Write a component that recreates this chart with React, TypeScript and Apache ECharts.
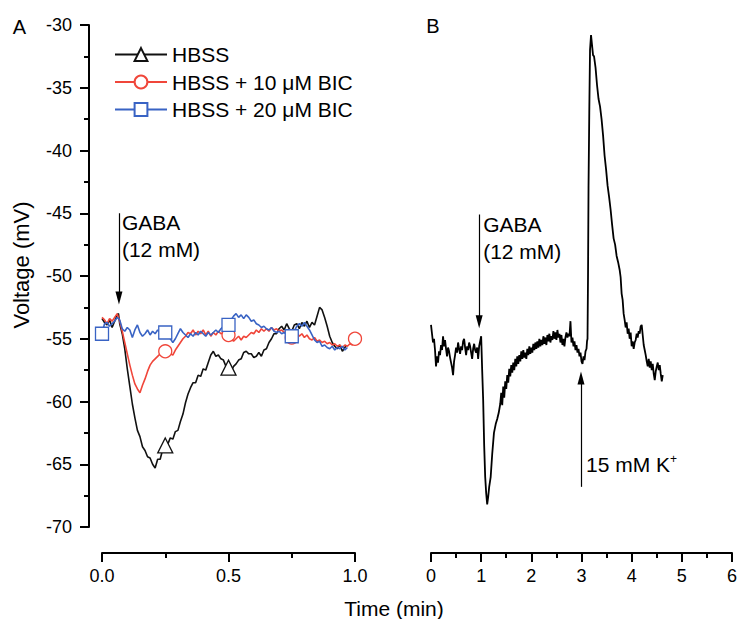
import React, { useEffect, useRef } from 'react';
import * as echarts from 'echarts';

// ---------- Panel A data (time in min, voltage in mV) ----------
const hbssTime = [0.00,0.01,0.02,0.03,0.04,0.05,0.06,0.065,0.07,0.08,0.09,0.10,0.11,0.12,0.13,0.14,0.15,0.16,0.17,0.18,0.19,0.20,0.21,0.22,0.23,0.24,0.25,0.26,0.27,0.28,0.29,0.30,0.31,0.32,0.33,0.34,0.35,0.36,0.37,0.38,0.39,0.40,0.41,0.42,0.43,0.44,0.45,0.46,0.47,0.48,0.49,0.50,0.51,0.52,0.53,0.54,0.55,0.56,0.57,0.58,0.59,0.60,0.61,0.62,0.63,0.64,0.65,0.66,0.67,0.68,0.69,0.70,0.71,0.72,0.73,0.74,0.75,0.76,0.77,0.78,0.79,0.80,0.81,0.82,0.83,0.84,0.85,0.86,0.87,0.88,0.89,0.90,0.91,0.92,0.93,0.94,0.95,0.96,0.965];
const hbssVolt = [-53.4,-53.7,-53.9,-53.5,-54.1,-53.6,-53.1,-53.0,-53.8,-54.6,-55.8,-57.4,-58.8,-60.2,-61.3,-62.3,-62.8,-63.6,-63.9,-64.4,-64.5,-65.0,-65.3,-64.6,-64.6,-63.8,-63.5,-63.4,-62.9,-63.0,-62.4,-62.3,-61.6,-61.0,-60.1,-59.4,-58.9,-58.5,-58.5,-57.9,-58.0,-57.4,-57.5,-56.9,-56.3,-56.0,-56.4,-56.3,-56.6,-56.7,-57.2,-57.3,-57.6,-57.2,-57.0,-56.7,-56.6,-56.1,-56.0,-56.2,-56.2,-56.5,-56.4,-56.1,-56.4,-55.9,-55.8,-55.3,-55.0,-54.6,-54.6,-54.2,-54.0,-54.3,-53.8,-54.2,-54.4,-53.9,-53.8,-54.2,-53.7,-54.0,-53.6,-54.1,-53.7,-53.9,-53.2,-52.5,-52.7,-53.3,-54.0,-54.8,-55.3,-55.6,-55.8,-55.5,-56.0,-55.7,-55.5];
const hbssMarks = [0.25, 0.5];

const bic10Time = [0.00,0.01,0.02,0.03,0.04,0.05,0.06,0.07,0.08,0.09,0.10,0.11,0.12,0.13,0.14,0.15,0.16,0.17,0.18,0.19,0.20,0.21,0.22,0.23,0.24,0.25,0.26,0.27,0.28,0.29,0.30,0.31,0.32,0.33,0.34,0.35,0.36,0.37,0.38,0.39,0.40,0.41,0.42,0.43,0.44,0.45,0.46,0.47,0.48,0.49,0.50,0.51,0.52,0.53,0.54,0.55,0.56,0.57,0.58,0.59,0.60,0.61,0.62,0.63,0.64,0.65,0.66,0.67,0.68,0.69,0.70,0.71,0.72,0.73,0.74,0.75,0.76,0.77,0.78,0.79,0.80,0.81,0.82,0.83,0.84,0.85,0.86,0.87,0.88,0.89,0.90,0.91,0.92,0.93,0.94,0.95,0.96,0.97,0.98,0.99,1.00];
const bic10Volt = [-53.3,-53.5,-53.8,-53.4,-53.6,-53.3,-53.0,-53.6,-54.4,-55.3,-56.2,-57.1,-57.9,-58.6,-59.0,-59.3,-58.7,-58.2,-57.6,-57.1,-56.8,-56.6,-56.4,-56.2,-56.1,-56.0,-55.9,-56.2,-56.3,-55.9,-55.6,-55.3,-55.0,-54.8,-54.5,-54.6,-54.3,-54.7,-54.4,-54.6,-54.3,-54.7,-54.4,-54.8,-54.5,-54.7,-54.4,-54.6,-54.5,-54.7,-54.7,-55.0,-55.2,-55.0,-54.8,-55.1,-54.8,-54.9,-54.7,-54.5,-54.6,-54.3,-54.5,-54.2,-54.4,-54.2,-54.4,-54.1,-54.3,-54.2,-54.4,-54.3,-54.5,-54.4,-54.6,-54.9,-54.7,-54.5,-54.8,-54.6,-54.9,-54.7,-55.0,-55.1,-54.9,-55.2,-55.1,-55.3,-55.2,-55.4,-55.3,-55.5,-55.4,-55.6,-55.5,-55.7,-55.5,-55.6,-55.4,-55.5,-55.0];
const bic10Marks = [0.25, 0.5, 0.75, 1.0];

const bic20Time = [0.00,0.01,0.02,0.03,0.04,0.05,0.06,0.07,0.08,0.09,0.10,0.11,0.12,0.13,0.14,0.15,0.16,0.17,0.18,0.19,0.20,0.21,0.22,0.23,0.24,0.25,0.26,0.27,0.28,0.29,0.30,0.31,0.32,0.33,0.34,0.35,0.36,0.37,0.38,0.39,0.40,0.41,0.42,0.43,0.44,0.45,0.46,0.47,0.48,0.49,0.50,0.51,0.52,0.53,0.54,0.55,0.56,0.57,0.58,0.59,0.60,0.61,0.62,0.63,0.64,0.65,0.66,0.67,0.68,0.69,0.70,0.71,0.72,0.73,0.74,0.75,0.76,0.77,0.78,0.79,0.80,0.81,0.82,0.83,0.84,0.85,0.86,0.87,0.88,0.89,0.90,0.91,0.92,0.93,0.94,0.95,0.96,0.97];
const bic20Volt = [-54.6,-53.8,-53.7,-54.0,-53.8,-53.6,-53.3,-53.5,-54.2,-54.4,-54.1,-54.3,-54.9,-54.3,-53.9,-54.5,-54.8,-54.6,-54.3,-54.7,-54.4,-54.6,-54.3,-54.5,-54.4,-54.5,-54.8,-55.0,-55.3,-55.0,-54.6,-54.2,-54.5,-54.7,-54.9,-54.6,-54.8,-54.5,-54.7,-54.4,-54.6,-54.8,-54.5,-54.7,-54.5,-54.3,-54.5,-54.2,-54.0,-53.9,-53.9,-53.5,-53.2,-53.0,-53.3,-53.1,-53.4,-53.1,-53.3,-53.6,-53.5,-53.8,-53.9,-54.1,-54.0,-54.2,-54.3,-54.1,-54.4,-54.5,-54.4,-54.6,-54.5,-54.7,-54.6,-54.8,-54.4,-54.0,-53.8,-54.0,-53.7,-54.0,-54.3,-54.7,-55.1,-55.3,-55.2,-55.6,-55.5,-55.7,-55.8,-55.6,-55.9,-55.7,-55.8,-55.6,-55.9,-55.7];
const bic20Marks = [0.0, 0.25, 0.5, 0.75];

// ---------- Panel B data ----------
const traceBTime = [0.00,0.02,0.04,0.06,0.08,0.10,0.12,0.14,0.16,0.18,0.20,0.22,0.24,0.26,0.28,0.30,0.32,0.34,0.36,0.38,0.40,0.42,0.44,0.46,0.48,0.50,0.52,0.54,0.56,0.58,0.60,0.62,0.64,0.66,0.68,0.70,0.72,0.74,0.76,0.78,0.80,0.82,0.84,0.86,0.88,0.90,0.92,0.94,0.96,0.98,1.00,1.02,1.04,1.06,1.08,1.10,1.12,1.14,1.16,1.19,1.22,1.255,1.29,1.32,1.35,1.38,1.40,1.42,1.44,1.46,1.48,1.50,1.52,1.54,1.56,1.58,1.60,1.62,1.64,1.66,1.68,1.70,1.72,1.74,1.76,1.78,1.80,1.82,1.84,1.86,1.88,1.90,1.92,1.94,1.96,1.98,2.00,2.02,2.04,2.06,2.08,2.10,2.12,2.14,2.16,2.18,2.20,2.22,2.24,2.26,2.28,2.30,2.32,2.34,2.36,2.38,2.40,2.42,2.44,2.46,2.48,2.50,2.52,2.54,2.56,2.58,2.60,2.62,2.64,2.66,2.68,2.70,2.72,2.74,2.76,2.78,2.80,2.82,2.84,2.86,2.88,2.90,2.92,2.94,2.96,2.98,3.00,3.02,3.04,3.06,3.08,3.10,3.11,3.12,3.13,3.14,3.155,3.17,3.19,3.21,3.23,3.25,3.28,3.31,3.34,3.37,3.40,3.43,3.46,3.49,3.52,3.55,3.58,3.61,3.64,3.67,3.70,3.73,3.76,3.78,3.80,3.82,3.84,3.86,3.88,3.90,3.92,3.94,3.96,3.98,4.00,4.02,4.04,4.06,4.08,4.10,4.12,4.14,4.16,4.18,4.20,4.22,4.24,4.26,4.28,4.30,4.32,4.34,4.36,4.38,4.40,4.42,4.44,4.46,4.48,4.50,4.52,4.54,4.56,4.58,4.60,4.62];
const traceBVolt = [-53.9,-54.6,-55.3,-55.0,-55.9,-57.2,-56.4,-56.9,-56.0,-56.3,-55.5,-55.9,-54.8,-55.6,-55.1,-55.8,-56.4,-55.7,-56.0,-56.5,-56.9,-57.3,-57.9,-56.8,-56.3,-55.7,-56.1,-55.3,-55.8,-56.2,-55.6,-55.9,-55.2,-55.0,-55.7,-56.3,-55.6,-55.9,-55.3,-55.6,-56.1,-56.6,-55.8,-55.4,-55.9,-56.1,-55.7,-56.6,-55.6,-55.2,-54.8,-57.5,-59.9,-63.5,-66.0,-67.3,-68.2,-67.6,-66.8,-66.0,-64.2,-62.5,-61.8,-61.4,-60.9,-60.2,-59.3,-60.3,-58.8,-59.7,-58.4,-59.0,-57.9,-58.5,-57.4,-58.0,-57.1,-57.7,-56.9,-57.5,-56.6,-57.2,-56.4,-57.0,-56.3,-56.8,-56.0,-56.6,-55.9,-56.5,-56.1,-56.6,-55.8,-56.3,-55.6,-56.2,-55.7,-56.1,-55.4,-55.9,-55.3,-55.8,-55.2,-55.7,-55.0,-55.6,-55.1,-55.5,-54.8,-55.4,-54.9,-55.5,-54.7,-55.2,-54.6,-55.3,-54.8,-55.1,-54.4,-55.0,-54.5,-55.1,-54.3,-54.9,-54.6,-55.3,-54.7,-55.5,-55.0,-55.6,-54.9,-54.5,-54.9,-54.6,-54.8,-53.6,-55.3,-54.9,-55.6,-55.2,-55.9,-55.5,-56.1,-55.8,-56.4,-56.1,-56.8,-57.0,-56.4,-56.7,-56.0,-55.8,-55.2,-55.0,-50.0,-43.0,-37.0,-32.0,-30.8,-31.6,-32.4,-32.5,-33.4,-34.8,-35.9,-36.5,-37.5,-38.8,-40.4,-41.5,-42.8,-43.7,-44.7,-45.9,-47.0,-47.5,-48.4,-48.9,-49.5,-50.1,-51.4,-51.9,-53.0,-53.5,-54.1,-53.7,-54.6,-54.2,-55.0,-54.5,-55.6,-55.2,-55.8,-55.3,-55.1,-54.6,-54.9,-54.4,-54.6,-54.0,-53.9,-54.7,-55.5,-55.9,-56.3,-56.8,-57.2,-56.6,-57.3,-56.8,-57.5,-57.0,-57.8,-58.3,-57.6,-57.2,-56.9,-57.5,-57.1,-57.8,-58.4,-57.9,-58.3];

// ---------- Annotations (data coordinates) ----------
const gabaA = { t: 0.067, top: -45.0, tip: -51.75 };
const gabaB = { t: 0.96, top: -45.1, tip: -53.65 };
const potB = { t: 2.99, bottom: -66.8, tip: -58.13 };

const seriesNames = ['HBSS', 'HBSS + 10 \u03BCM BIC', 'HBSS + 20 \u03BCM BIC'];
const seriesColors = ['#111111', '#f0463a', '#3963c4'];
const seriesSymbols = ['triangle', 'circle', 'rect'];

const FONT = '"Liberation Sans", Arial, Helvetica, sans-serif';

function buildData(ts: number[], vs: number[], marks: number[], symbol: string, size: number) {
  return ts.map((t, i) =>
    marks.includes(t)
      ? { value: [t, vs[i]], symbol, symbolSize: size }
      : { value: [t, vs[i]], symbol: 'none' }
  );
}

const axisCommon = {
  axisLine: { show: true, onZero: false, lineStyle: { color: '#000', width: 2 } },
  axisTick: { show: true, length: 9, lineStyle: { color: '#000', width: 2 } },
  minorTick: { show: true, splitNumber: 2, length: 5, lineStyle: { color: '#000', width: 2 } },
  splitLine: { show: false },
  minorSplitLine: { show: false },
};

export default function App() {
  const ref = useRef<HTMLDivElement>(null);
  useEffect(() => {
    if (!ref.current) return;
    const chart = echarts.init(ref.current, null, { renderer: 'svg' });
    const lineSeries = (idx: number, ts: number[], vs: number[], marks: number[], size: number) => ({
      type: 'line',
      name: seriesNames[idx],
      xAxisIndex: 0,
      yAxisIndex: 0,
      data: buildData(ts, vs, marks, seriesSymbols[idx], size),
      symbol: seriesSymbols[idx],
      symbolSize: size,
      showSymbol: true,
      showAllSymbol: true,
      lineStyle: { color: seriesColors[idx], width: 1.6 },
      itemStyle: { color: '#ffffff', borderColor: seriesColors[idx], borderWidth: 1.3 },
      emphasis: { disabled: true },
      silent: true,
      z: 2 + idx,
    });

    const arrowLine = (t: number, from: number, to: number) => ({
      silent: true,
      symbol: ['none', 'triangle'],
      symbolSize: [7, 13],
      label: { show: false },
      lineStyle: { color: '#000', width: 1.2, type: 'solid' },
      emphasis: { disabled: true },
      animation: false,
      data: [[{ coord: [t, from] }, { coord: [t, to] }]],
    });

    const option: any = {
      animation: false,
      backgroundColor: '#ffffff',
      textStyle: { fontFamily: FONT },
      grid: [
        { left: 102, top: 25, width: 253, height: 502 },
        { left: 431, top: 25, width: 306, height: 502 },
      ],
      legend: {
        show: true,
        orient: 'vertical',
        left: 109,
        top: 39,
        itemWidth: 52,
        itemHeight: 16,
        itemGap: 6.5,
        data: seriesNames,
        textStyle: { color: '#000', fontSize: 21, fontFamily: FONT, lineHeight: 21, padding: [0, 0, 0, 0] },
        selectedMode: false,
      },
      xAxis: [
        {
          type: 'value', gridIndex: 0, min: 0, max: 1, interval: 0.5, offset: 26,
          ...axisCommon,
          axisLabel: { formatter: (v: number) => v.toFixed(1), fontSize: 18, color: '#000', margin: 14, fontFamily: FONT },
        },
        {
          type: 'value', gridIndex: 1, min: 0, max: 6, interval: 1, offset: 26,
          ...axisCommon,
          axisLabel: { fontSize: 18, color: '#000', margin: 14, fontFamily: FONT },
        },
      ],
      yAxis: [
        {
          type: 'value', gridIndex: 0, min: -70, max: -30, interval: 5, offset: 13,
          ...axisCommon,
          axisLabel: { fontSize: 18, color: '#000', margin: 17, fontFamily: FONT },
        },
        {
          type: 'value', gridIndex: 1, min: -70, max: -30, interval: 5, show: false,
          splitLine: { show: false },
        },
      ],
      series: [
        { ...lineSeries(0, hbssTime, hbssVolt, hbssMarks, 15), markLine: arrowLine(gabaA.t, gabaA.top, gabaA.tip) },
        lineSeries(1, bic10Time, bic10Volt, bic10Marks, 13),
        lineSeries(2, bic20Time, bic20Volt, bic20Marks, 13),
        {
          type: 'line',
          name: 'Trace B',
          xAxisIndex: 1,
          yAxisIndex: 1,
          data: traceBTime.map((t, i) => [t, traceBVolt[i]]),
          showSymbol: false,
          symbol: 'none',
          lineStyle: { color: '#000', width: 1.8 },
          emphasis: { disabled: true },
          silent: true,
          markLine: {
            ...arrowLine(gabaB.t, gabaB.top, gabaB.tip),
            data: [
              [{ coord: [gabaB.t, gabaB.top] }, { coord: [gabaB.t, gabaB.tip] }],
              [{ coord: [potB.t, potB.bottom] }, { coord: [potB.t, potB.tip] }],
            ],
          },
        },
      ],
    };
    chart.setOption(option);

    const pA = chart.convertToPixel({ xAxisIndex: 0, yAxisIndex: 0 }, [gabaA.t, gabaA.top]) as number[];
    const pB = chart.convertToPixel({ xAxisIndex: 1, yAxisIndex: 1 }, [gabaB.t, gabaB.top]) as number[];
    const pK = chart.convertToPixel({ xAxisIndex: 1, yAxisIndex: 1 }, [potB.t, potB.bottom]) as number[];

    const txt = (x: number, y: number, text: string, extra: any = {}) => ({
      type: 'text', x, y, silent: true,
      style: { text, fill: '#000', fontSize: 21, fontFamily: FONT, ...extra },
    });

    chart.setOption({
      graphic: [
        txt(19.5, 27, 'A', { fontSize: 20, align: 'center', verticalAlign: 'middle' }),
        txt(433, 26, 'B', { fontSize: 20, align: 'center', verticalAlign: 'middle' }),
        {
          type: 'text', x: 21, y: 265, rotation: Math.PI / 2, silent: true,
          style: { text: 'Voltage (mV)', fill: '#000', fontSize: 22, fontFamily: FONT, align: 'center', verticalAlign: 'middle' },
        },
        txt(394, 608, 'Time (min)', { fontSize: 21, align: 'center', verticalAlign: 'middle' }),
        txt(pA[0] + 3, pA[1] - 4, 'GABA\n(12 mM)', { lineHeight: 27, verticalAlign: 'top' }),
        txt(pB[0] + 4, pB[1] - 4, 'GABA\n(12 mM)', { lineHeight: 27, verticalAlign: 'top' }),
        {
          type: 'text', x: pK[0] + 5, y: pK[1] - 22, silent: true,
          style: {
            text: '15 mM K{sup|+}',
            fill: '#000', fontSize: 21, fontFamily: FONT, verticalAlign: 'middle', lineHeight: 24,
            rich: { sup: { fontSize: 12, fontFamily: FONT, fill: '#000', verticalAlign: 'top', lineHeight: 24 } },
          },
        },
      ],
    });

    return () => chart.dispose();
  }, []);
  return <div ref={ref} style={{ position: 'absolute', left: 0, top: 0, width: 740, height: 619 }} />;
}
